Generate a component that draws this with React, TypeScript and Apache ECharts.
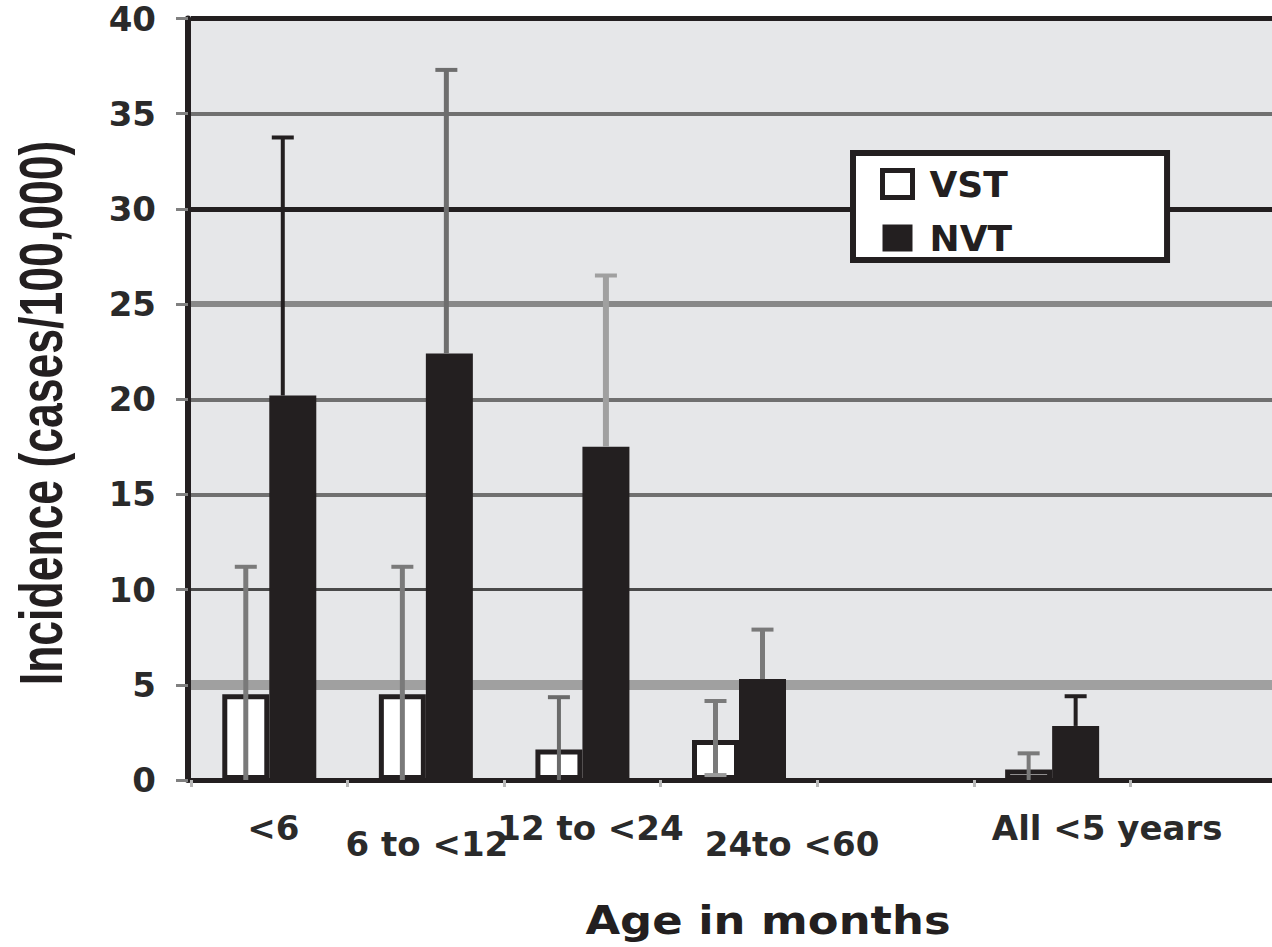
import React, { useEffect, useRef } from "react";
import * as echarts from "echarts";

// ---- data ----
const CATEGORIES = ["<6", "6 to <12", "12 to <24", "24to <60", "", "All <5 years", ""];
const VST = [4.5, 4.5, 1.6, 2.1, null, 0.55, null];
const VST_UPPER = [11.2, 11.2, 4.35, 4.15, null, 1.4, null];
const VST_LOWER = [0, 0, 0, 0.26, null, 0, null];
const NVT = [20.2, 22.4, 17.5, 5.3, null, 2.84, null];
const NVT_UPPER = [33.75, 37.3, 26.5, 7.9, null, 4.4, null];
const Y_MIN = 0;
const Y_MAX = 40;
const Y_STEP = 5;
const GRID_LEVELS = [5, 10, 15, 20, 25, 30, 35, 40];

// ---- styles ----
const INK = "#231f20";
const GRID_COLORS = ["#a0a0a0", "#4a4a4a", "#707070", "#707070", "#888888", INK, "#707070", INK];
const GRID_WIDTHS = [10, 3, 4, 4, 6, 5, 4, 5];
const VST_ERR_COLORS = ["#7a7a7a", "#7a7a7a", "#6a6a6a", "#7a7a7a", "#7a7a7a", "#7a7a7a", "#7a7a7a"];
const VST_ERR_WIDTHS = [5, 5, 4, 5, 5, 4, 4];
const NVT_ERR_COLORS = [INK, "#6e6e6e", "#a0a0a0", "#7a7a7a", INK, INK, INK];
const NVT_ERR_WIDTHS = [4, 5, 6, 5, 4, 4, 4];
const NVT_ERR_DX = [-10, -3, 0, 0, 0, 0, 0];
const BAR_WIDTH = 47;
const CAP_HALF = 11;
// label shifts (px right, px down) per category
const LABEL_SHIFT_X = [4, 1, 8, 53, 0, 55, 0];
const LABEL_SHIFT_Y = [0, 32, 0, 32, 0, 0, 0];

function errSeries(
  name: string,
  upper: (number | null)[],
  lower: (number | null)[],
  side: number,
  colors: string[],
  widths: number[],
  dx: number[] | null,
  lowCap: boolean
) {
  const data = CATEGORIES.map((_, i) =>
    upper[i] == null ? null : [i, lower[i] as number, upper[i] as number]
  ).filter((d) => d !== null);
  return {
    name,
    type: "custom",
    z: 6,
    silent: true,
    encode: { x: 0, y: [1, 2] },
    data,
    renderItem: (params: any, api: any) => {
      const i = api.value(0);
      const lo = api.value(1);
      const hi = api.value(2);
      const pTop = api.coord([i, hi]);
      const pBot = api.coord([i, lo]);
      const x = pTop[0] + (side * BAR_WIDTH) / 2 + (dx ? dx[i] : 0);
      const style = { stroke: colors[i], lineWidth: widths[i] };
      const children: any[] = [
        { type: "line", shape: { x1: x, y1: pBot[1], x2: x, y2: pTop[1] }, style },
        {
          type: "line",
          shape: { x1: x - CAP_HALF, y1: pTop[1], x2: x + CAP_HALF, y2: pTop[1] },
          style: { stroke: colors[i], lineWidth: 4 },
        },
      ];
      if (lowCap && lo > 0) {
        children.push({
          type: "line",
          shape: { x1: x - CAP_HALF, y1: pBot[1], x2: x + CAP_HALF, y2: pBot[1] },
          style: { stroke: "#9a9a9a", lineWidth: 4 },
        });
      }
      return { type: "group", children };
    },
  };
}

export default function App() {
  const ref = useRef<HTMLDivElement>(null);

  useEffect(() => {
    if (!ref.current) return;
    const chart = echarts.init(ref.current, undefined, { renderer: "svg" });

    const rich: Record<string, any> = {};
    CATEGORIES.forEach((_, i) => {
      rich["l" + i] = {
        fontFamily: "DejaVu Sans",
        fontWeight: "bold",
        fontSize: 34,
        color: "#2a2a2a",
        lineHeight: 36,
        padding: [LABEL_SHIFT_Y[i], 0, 0, LABEL_SHIFT_X[i] * 2],
      };
    });

    chart.setOption({
      animation: false,
      backgroundColor: "#ffffff",
      grid: {
        left: 191,
        top: 18.5,
        width: 1096,
        height: 761.5,
        show: true,
        backgroundColor: "#e6e7e9",
        borderWidth: 0,
      },
      xAxis: {
        type: "category",
        data: CATEGORIES,
        axisLine: { show: true, lineStyle: { color: INK, width: 5 } },
        axisTick: { show: true, length: 7, interval: 0, lineStyle: { color: "#b8b8b8", width: 3 } },
        axisLabel: {
          interval: 0,
          margin: 30,
          formatter: (v: string, i: number) => (v ? `{l${i}|${v}}` : ""),
          rich,
        },
        splitLine: { show: false },
      },
      yAxis: {
        type: "value",
        min: Y_MIN,
        max: Y_MAX,
        interval: Y_STEP,
        offset: 3,
        axisLine: { show: true, lineStyle: { color: INK, width: 6 } },
        axisTick: { show: true, length: 12, lineStyle: { color: "#808080", width: 3 } },
        axisLabel: {
          margin: 32,
          fontFamily: "DejaVu Sans",
          fontWeight: "bold",
          fontSize: 34,
          color: "#2a2a2a",
          padding: [9, 0, 0, 0],
        },
        splitLine: { show: false },
      },
      legend: {
        orient: "vertical",
        left: 853,
        top: 153,
        backgroundColor: "#ffffff",
        borderColor: INK,
        borderWidth: 6,
        padding: [13, 155, 4, 27],
        itemWidth: 30,
        itemHeight: 27,
        itemGap: 18,
        selectedMode: false,
        textStyle: {
          fontFamily: "DejaVu Sans",
          fontWeight: "bold",
          fontSize: 36,
          color: INK,
          padding: [0, 0, 0, 12],
        },
        data: [
          { name: "VST", icon: "rect", itemStyle: { color: "#ffffff", borderColor: INK, borderWidth: 5 } },
          { name: "NVT", icon: "rect", itemStyle: { color: INK, borderWidth: 0 } },
        ],
      },
      graphic: [
        {
          type: "text",
          x: 41,
          y: 413,
          rotation: Math.PI / 2,
          scaleX: 0.73,
          silent: true,
          style: {
            text: "Incidence (cases/100,000)",
            fontFamily: "Liberation Sans",
            fontWeight: "bold",
            fontSize: 61,
            fill: INK,
            align: "center",
            verticalAlign: "middle",
          },
        },
        {
          type: "text",
          x: 768,
          y: 921,
          scaleX: 1.15,
          silent: true,
          style: {
            text: "Age in months",
            fontFamily: "DejaVu Sans",
            fontWeight: "bold",
            fontSize: 39,
            fill: INK,
            align: "center",
            verticalAlign: "middle",
          },
        },
      ],
      series: [
        {
          name: "grid",
          type: "line",
          data: [],
          z: 1,
          silent: true,
          markLine: {
            z: 1,
            silent: true,
            symbol: "none",
            label: { show: false },
            animation: false,
            data: GRID_LEVELS.map((v, i) => ({
              yAxis: v,
              lineStyle: { color: GRID_COLORS[i], width: GRID_WIDTHS[i], type: "solid" },
            })),
          },
        },
        {
          name: "VST",
          type: "bar",
          z: 3,
          barWidth: BAR_WIDTH,
          barGap: "0%",
          data: VST,
          itemStyle: { color: "#ffffff", borderColor: INK, borderWidth: 5 },
        },
        {
          name: "NVT",
          type: "bar",
          z: 4,
          barWidth: BAR_WIDTH,
          barGap: "0%",
          data: NVT,
          itemStyle: { color: INK },
        },
        errSeries("VST error", VST_UPPER, VST_LOWER, -1, VST_ERR_COLORS, VST_ERR_WIDTHS, null, true),
        errSeries("NVT error", NVT_UPPER, NVT, 1, NVT_ERR_COLORS, NVT_ERR_WIDTHS, NVT_ERR_DX, false),
      ],
    });

    return () => chart.dispose();
  }, []);

  return (
    <div
      style={{
        position: "absolute",
        left: 0,
        top: 0,
        width: 1272,
        height: 947,
        overflow: "hidden",
        background: "#fff",
      }}
    >
      <div ref={ref} style={{ width: 1310, height: 947 }} />
    </div>
  );
}
